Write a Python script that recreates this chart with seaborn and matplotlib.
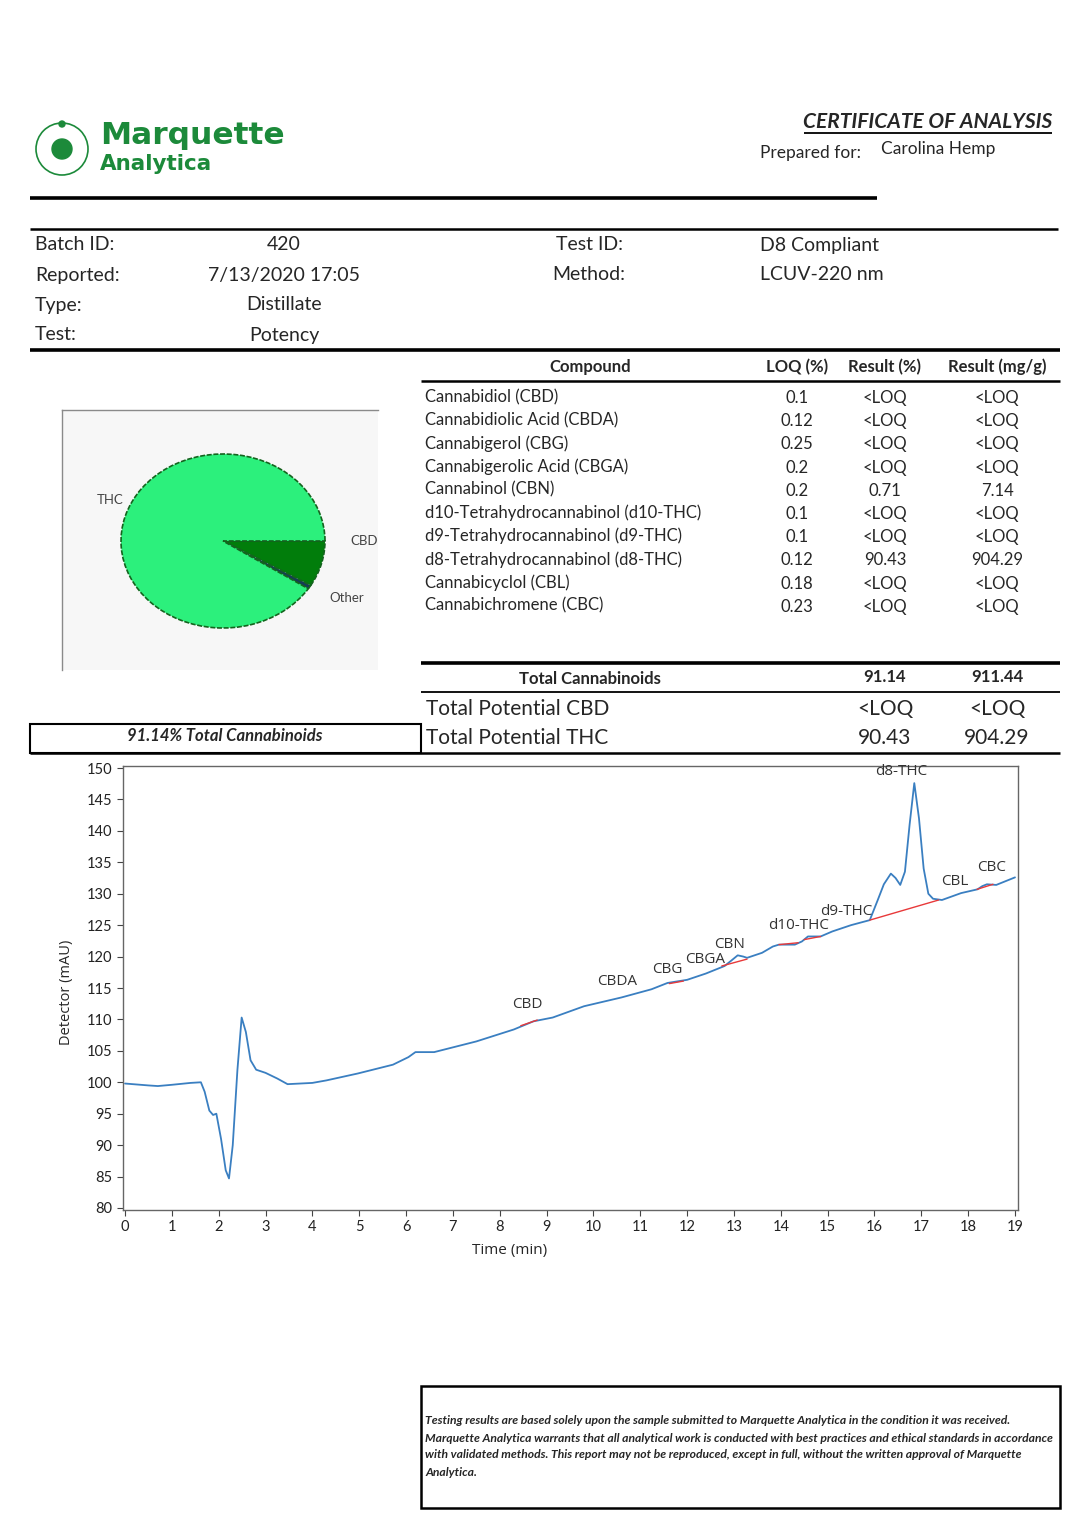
import numpy as np
import pandas as pd
import matplotlib.pyplot as plt
import seaborn as sns
from matplotlib.patches import Rectangle, Circle

W, H = 1071, 1518

# header / sample info
info_labels = ['Batch ID:', 'Reported:', 'Type:', 'Test:']
info_values = ['420', '7/13/2020 17:05', 'Distillate', 'Potency']
test_labels = ['Test ID:', 'Method:']
test_values = ['D8 Compliant', 'LCUV-220 nm']

# potency table
compounds = ['Cannabidiol (CBD)', 'Cannabidiolic Acid (CBDA)', 'Cannabigerol (CBG)',
             'Cannabigerolic Acid (CBGA)', 'Cannabinol (CBN)',
             'd10-Tetrahydrocannabinol (d10-THC)', 'd9-Tetrahydrocannabinol (d9-THC)',
             'd8-Tetrahydrocannabinol (d8-THC)', 'Cannabicyclol (CBL)', 'Cannabichromene (CBC)']
loq_pct = ['0.1', '0.12', '0.25', '0.2', '0.2', '0.1', '0.1', '0.12', '0.18', '0.23']
result_pct = ['<LOQ', '<LOQ', '<LOQ', '<LOQ', '0.71', '<LOQ', '<LOQ', '90.43', '<LOQ', '<LOQ']
result_mg = ['<LOQ', '<LOQ', '<LOQ', '<LOQ', '7.14', '<LOQ', '<LOQ', '904.29', '<LOQ', '<LOQ']
totals_labels = ['Total Potential CBD', 'Total Potential THC']
totals_pct = ['<LOQ', '90.43']
totals_mg = ['<LOQ', '904.29']

# pie
pie_labels = ['CBD', 'Other', 'THC']
pie_values = [8.5, 0.71, 90.43]
pie_colors = ['#017d0b', '#163a5a', '#2cf07c']

# chromatogram trace
time_min = [0, 0.5, 0.7, 1.0, 1.4, 1.62, 1.7, 1.8, 1.88, 1.95, 2.05, 2.15, 2.22, 2.3,
            2.4, 2.49, 2.58, 2.68, 2.8, 3.0, 3.25, 3.47, 4.0, 4.3, 4.97, 5.72, 6.05,
            6.2, 6.6, 7.5, 8.3, 8.72, 9.13, 9.8, 10.6, 11.24, 11.58, 12.0, 12.4, 12.8,
            12.95, 13.08, 13.2, 13.28, 13.6, 13.83, 13.96, 14.3, 14.45, 14.58, 14.85,
            15.1, 15.5, 15.9, 16.07, 16.2, 16.35, 16.45, 16.55, 16.65, 16.75, 16.85,
            16.95, 17.05, 17.15, 17.25, 17.44, 17.85, 18.2, 18.3, 18.4, 18.6, 19.0]
signal = [99.8, 99.5, 99.4, 99.6, 99.9, 100.0, 98.5, 95.5, 94.8, 95.0, 91.0, 86.0, 84.7,
          90.0, 102.0, 110.3, 108.0, 103.5, 102.0, 101.5, 100.6, 99.7, 99.9, 100.3,
          101.4, 102.8, 104.0, 104.8, 104.8, 106.5, 108.4, 109.7, 110.3, 112.1, 113.5,
          114.8, 115.8, 116.3, 117.3, 118.5, 119.4, 120.2, 120.0, 119.8, 120.6, 121.6,
          121.9, 121.9, 122.4, 123.2, 123.2, 124.0, 125.0, 125.8, 129.0, 131.5, 133.2,
          132.5, 131.4, 133.5, 141.0, 147.6, 142.0, 134.0, 130.0, 129.2, 129.0, 130.1,
          130.7, 131.2, 131.5, 131.4, 132.6]

# integration baselines (red)
base_t0 = [8.45, 11.62, 12.74, 13.96, 14.5, 15.9, 18.19]
base_y0 = [109.0, 115.7, 118.5, 121.9, 122.7, 125.8, 130.7]
base_t1 = [8.8, 11.92, 13.28, 14.37, 14.85, 17.37, 18.53]
base_y1 = [109.9, 116.1, 119.6, 122.2, 123.2, 129.0, 131.5]

# peak names
peak_names = ['CBD', 'CBDA', 'CBG', 'CBGA', 'CBN', 'd10-THC', 'd9-THC', 'd8-THC', 'CBL', 'CBC']
peak_t = [8.58, 10.5, 11.58, 12.38, 12.9, 14.37, 15.4, 16.57, 17.72, 18.49]
peak_y = [112.3, 116.0, 118.0, 119.5, 122.0, 125.0, 127.2, 149.4, 132.0, 134.2]

footer_lines = [
    'Testing results are based solely upon the sample submitted to Marquette Analytica in the condition it was received.',
    'Marquette Analytica warrants that all analytical work is conducted with best practices and ethical standards in accordance',
    'with validated methods. This report may not be reproduced, except in full, without the written approval of Marquette',
    'Analytica.',
]

sns.set_style('ticks')
plt.rcParams['font.family'] = ['Lato', 'DejaVu Sans']

fig = plt.figure(figsize=(W / 100, H / 100), dpi=100)

# page canvas in pixel coordinates
bg = fig.add_axes([0, 0, 1, 1])
bg.set_xlim(0, W)
bg.set_ylim(H, 0)
bg.axis('off')


def hline(x0, x1, y, lw=1.5, c='black'):
    bg.plot([x0, x1], [y, y], color=c, lw=lw, solid_capstyle='butt')


# logo
green = '#1c8a3a'
bg.add_patch(Circle((62, 149), 26, fill=False, ec=green, lw=1.2))
bg.add_patch(Circle((62, 149), 10, color=green))
bg.add_patch(Circle((62, 124), 3, color=green))
bg.text(100, 136, 'Marquette', fontsize=22.5, fontweight='heavy', color=green,
        va='center', family='DejaVu Sans')
bg.text(100, 164, 'Analytica', fontsize=15.5, fontweight='heavy', color=green,
        va='center', family='DejaVu Sans')

# title block
bg.text(1052, 122, 'CERTIFICATE OF ANALYSIS', fontsize=15, fontweight='bold',
        style='italic', ha='right', va='center')
hline(804, 1052, 133, lw=1.3)
bg.text(760, 153, 'Prepared for:', fontsize=12.5, va='center')
bg.text(881, 149, 'Carolina Hemp', fontsize=12.5, va='center')

hline(30, 877, 198, lw=2.6)
hline(30, 1058, 229, lw=1.8)

for i, (lab, val) in enumerate(zip(info_labels, info_values)):
    y = 245 + i * 30
    bg.text(35, y, lab, fontsize=14, va='center')
    bg.text(284, y, val, fontsize=14, va='center', ha='center')
for i, (lab, val) in enumerate(zip(test_labels, test_values)):
    y = 245 + i * 30
    bg.text(589, y, lab, fontsize=14, va='center', ha='center')
    bg.text(760, y, val, fontsize=14, va='center')

hline(30, 1060, 350, lw=2.6)

# potency table
bg.text(590, 367, 'Compound', fontsize=12, fontweight='bold', ha='center', va='center')
bg.text(797, 367, 'LOQ (%)', fontsize=12, fontweight='bold', ha='center', va='center')
bg.text(885, 367, 'Result (%)', fontsize=12, fontweight='bold', ha='center', va='center')
bg.text(997, 367, 'Result (mg/g)', fontsize=12, fontweight='bold', ha='center', va='center')
hline(421, 1060, 381, lw=1.8)
for i, name in enumerate(compounds):
    y = 397 + i * 23.2
    bg.text(425, y, name, fontsize=12, va='center')
    bg.text(797, y + 1, loq_pct[i], fontsize=12, ha='center', va='center')
    bg.text(885, y + 1, result_pct[i], fontsize=12, ha='center', va='center')
    bg.text(997, y + 1, result_mg[i], fontsize=12, ha='center', va='center')

hline(421, 1060, 663, lw=2.6)
bg.text(590, 679, 'Total Cannabinoids', fontsize=12, fontweight='bold', ha='center', va='center')
bg.text(885, 677, '91.14', fontsize=12, fontweight='bold', ha='center', va='center')
bg.text(997, 677, '911.44', fontsize=12, fontweight='bold', ha='center', va='center')
hline(421, 1060, 692, lw=1.3)
for i, lab in enumerate(totals_labels):
    y = 709 + i * 29
    bg.text(426, y, lab, fontsize=15, va='center')
    bg.text(885, y, totals_pct[i], fontsize=15, ha='center', va='center')
    bg.text(997, y, totals_mg[i], fontsize=15, ha='center', va='center')
hline(30, 1060, 753, lw=1.8)
bg.add_patch(Rectangle((30, 724), 391, 29, fill=False, ec='black', lw=1.5))
bg.text(225, 736, '91.14% Total Cannabinoids', fontsize=12, fontweight='bold',
        style='italic', ha='center', va='center')

# footer disclaimer
bg.add_patch(Rectangle((421, 1386), 639, 122, fill=False, ec='black', lw=1.8))
for i, line in enumerate(footer_lines):
    bg.text(425, 1421 + i * 17, line, fontsize=8.7, fontweight='bold', style='italic',
            va='center')

# pie chart
pax = fig.add_axes([62 / W, 1 - 670 / H, 316 / W, 260 / H])
pax.pie(pie_values, colors=pie_colors, startangle=0, counterclock=False,
        wedgeprops=dict(edgecolor='#14641e', linewidth=1.2, linestyle=(0, (3, 1))))
pax.set_aspect('auto')
pax.set_xlim(-(223 - 62) / 102, (378 - 223) / 102)
pax.set_ylim(-(670 - 541) / 87, (541 - 410) / 87)
pax.set_facecolor('#f7f7f7')
pax.set_frame_on(True)
for s in ['right', 'bottom']:
    pax.spines[s].set_visible(False)
for s in ['top', 'left']:
    pax.spines[s].set_color('#8a8a8a')
    pax.spines[s].set_linewidth(1.0)
pax.text((110 - 223) / 102, (541 - 500) / 87, pie_labels[2], fontsize=9.5, color='#444444',
         ha='center', va='center')
pax.text((364 - 223) / 102, 0, pie_labels[0], fontsize=9.5, color='#444444',
         ha='center', va='center')
pax.text((347 - 223) / 102, (541 - 598) / 87, pie_labels[1], fontsize=9.5, color='#444444',
         ha='center', va='center')

# chromatogram
ax = fig.add_axes([123 / W, 1 - 1210 / H, 895 / W, 444 / H])
trace = pd.DataFrame({'t': time_min, 'mAU': signal})
for t0, y0, t1, y1 in zip(base_t0, base_y0, base_t1, base_y1):
    ax.plot([t0, t1], [y0, y1], color='#e8393a', lw=1.0, zorder=3)
sns.lineplot(data=trace, x='t', y='mAU', ax=ax, color='#3a7fc1', lw=1.3,
             sort=False, estimator=None, zorder=2)
for name, t, y in zip(peak_names, peak_t, peak_y):
    ax.text(t, y, name, fontsize=11, ha='center', va='center', color='#333333',
            family='Open Sans')
ax.set_xlim(-0.043, 19.064)
ax.set_ylim(79.68, 150.32)
ax.set_xticks(range(0, 20))
ax.set_yticks(range(80, 151, 5))
ax.tick_params(labelsize=10.5, length=4, color='#444444', labelcolor='#222222')
for s in ax.spines.values():
    s.set_color('#666666')
    s.set_linewidth(1.0)
ax.set_xlabel('Time (min)', fontsize=11, family='Open Sans')
ax.set_ylabel('Detector (mAU)', fontsize=10.5, family='Open Sans')
ax.xaxis.set_label_coords((510 - 123) / 895, -0.075)
ax.yaxis.set_label_coords(-0.055, 0.49)

fig.savefig('out.png', dpi=100)
